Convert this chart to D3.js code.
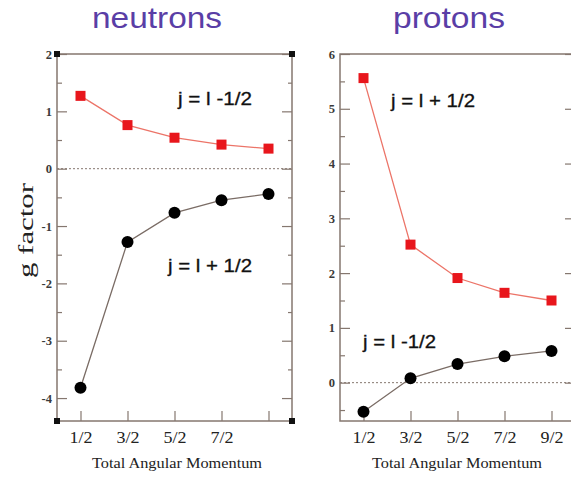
<!DOCTYPE html>
<html>
<head>
<meta charset="utf-8">
<script src="https://cdn.jsdelivr.net/npm/d3@7"></script>
<style>
  html, body { margin: 0; padding: 0; background: #fff; }
  svg { display: block; }
</style>
</head>
<body>
<svg id="chart" width="571" height="477"></svg>
<script>
// ---- data ----
const jValues = [0.5, 1.5, 2.5, 3.5, 4.5];
const neutronTickLabels = ["1/2", "3/2", "5/2", "7/2", ""];
const protonTickLabels = ["1/2", "3/2", "5/2", "7/2", "9/2"];
const neutronRed = [1.27, 0.76, 0.54, 0.42, 0.35];      // j = l - 1/2
const neutronBlack = [-3.82, -1.28, -0.77, -0.55, -0.44]; // j = l + 1/2
const protonRed = [5.56, 2.52, 1.91, 1.64, 1.50];        // j = l + 1/2
const protonBlack = [-0.53, 0.08, 0.34, 0.48, 0.58];     // j = l - 1/2
const neutronYTicks = [-4, -3, -2, -1, 0, 1, 2];
const protonYTicks = [0, 1, 2, 3, 4, 5, 6];
const titles = ["neutrons", "protons"];
const xLabel = "Total Angular Momentum";
const yLabel = "g factor";

const svg = d3.select("#chart");
const axisColor = "#85776f";
const purple = "#5a3ea6";
const red = "#e8161c";
const redLine = "#ec7468";
const blackLine = "#7a6c65";

function panel(cfg) {
  const x = d3.scaleLinear().domain([0, 5]).range([cfg.x0, cfg.x1]);
  const y = d3.scaleLinear().domain(cfg.yDomain).range([421, 54]);
  const g = svg.append("g");

  // zero dotted line
  g.append("line")
    .attr("x1", x(0)).attr("x2", x(5))
    .attr("y1", y(0)).attr("y2", y(0))
    .attr("stroke", axisColor).attr("stroke-width", 1)
    .attr("stroke-dasharray", "2,2");

  const minorVals = d3.range(cfg.yDomain[0], cfg.yDomain[1] + 0.001, 0.5)
    .map(v => Math.round(v * 2) / 2).filter(v => !Number.isInteger(v) && v >= cfg.yDomain[0] && v <= cfg.yDomain[1]);
  const styleAxis = sel => {
    sel.selectAll("path.domain").remove();
    sel.selectAll("line").attr("stroke", axisColor).attr("stroke-width", 1.2);
  };
  g.append("g").attr("transform", `translate(${x(0)},0)`)
    .call(d3.axisLeft(y).tickValues(minorVals).tickSize(-5).tickFormat(""))
    .call(styleAxis);
  g.append("g").attr("transform", `translate(${x(5)},0)`)
    .call(d3.axisRight(y).tickValues(minorVals).tickSize(-4).tickFormat(""))
    .call(styleAxis);
  const la = g.append("g").attr("transform", `translate(${x(0)},0)`)
    .call(d3.axisLeft(y).tickValues(cfg.yTicks).tickSize(-10).tickPadding(5).tickFormat(d3.format("d")))
    .call(styleAxis);
  la.selectAll("text").attr("font-family", "Liberation Serif").attr("font-size", 12.5)
    .attr("font-weight", "bold").attr("fill", "#3a3a3a").text(d => d < 0 ? "-" + Math.abs(d) : d);
  g.append("g").attr("transform", `translate(${x(5)},0)`)
    .call(d3.axisRight(y).tickValues(cfg.yTicks).tickSize(-10).tickFormat(""))
    .call(styleAxis);
  const ba = g.append("g").attr("transform", `translate(0,421)`)
    .call(d3.axisBottom(x).tickValues(jValues).tickSize(-10).tickPadding(11)
      .tickFormat((d, i) => cfg.xLabels[i]))
    .call(styleAxis);
  ba.selectAll("text").attr("font-family", "Liberation Serif").attr("font-size", 16)
    .attr("fill", "#222").attr("textLength", 23).attr("lengthAdjust", "spacingAndGlyphs")
    .filter((d, i) => cfg.xLabels[i] === "").remove();

  g.append("rect")
    .attr("x", x(0)).attr("y", y(cfg.yDomain[1]))
    .attr("width", x(5) - x(0)).attr("height", y(cfg.yDomain[0]) - y(cfg.yDomain[1]))
    .attr("fill", "none").attr("stroke", axisColor).attr("stroke-width", 1.5);

  if (cfg.corners) {
    [[x(0), y(cfg.yDomain[1])], [x(5), y(cfg.yDomain[1])], [x(0), y(cfg.yDomain[0])], [x(5), y(cfg.yDomain[0])]]
      .forEach(([cx, cy]) => g.append("rect").attr("x", cx - 3).attr("y", cy - 3)
        .attr("width", 6).attr("height", 6).attr("fill", "#111"));
  }

  const line = d3.line().x((d, i) => x(jValues[i])).y(d => y(d));
  g.append("path").datum(cfg.red).attr("d", line)
    .attr("fill", "none").attr("stroke", redLine).attr("stroke-width", 1.3);
  g.append("path").datum(cfg.black).attr("d", line)
    .attr("fill", "none").attr("stroke", blackLine).attr("stroke-width", 1.3);

  g.selectAll(".sq").data(cfg.red).join("rect")
    .attr("x", (d, i) => x(jValues[i]) - 5).attr("y", d => y(d) - 5)
    .attr("width", 10).attr("height", 10).attr("fill", red);
  g.selectAll(".ci").data(cfg.black).join("circle")
    .attr("cx", (d, i) => x(jValues[i])).attr("cy", d => y(d))
    .attr("r", 6).attr("fill", "#000");

  g.append("text").attr("x", cfg.titleX).attr("y", 28)
    .attr("font-family", "Liberation Sans").attr("font-size", 29)
    .attr("fill", purple).attr("textLength", cfg.titleW).attr("lengthAdjust", "spacingAndGlyphs")
    .text(cfg.title);

  g.append("text").attr("x", cfg.xLabelX).attr("y", 468)
    .attr("font-family", "Liberation Serif").attr("font-size", 15)
    .attr("fill", "#222").attr("textLength", 170).attr("lengthAdjust", "spacingAndGlyphs")
    .text(xLabel);

  cfg.notes.forEach(n => {
    g.append("text").attr("x", n.x).attr("y", n.y)
      .attr("font-family", "Liberation Sans").attr("font-size", 18)
      .attr("fill", "#111").attr("stroke", "#111").attr("stroke-width", 0.3)
      .attr("textLength", n.w).attr("lengthAdjust", "spacingAndGlyphs")
      .text(n.t);
  });
}

panel({
  x0: 57, x1: 292, yDomain: [-4.4, 2], yTicks: neutronYTicks,
  xLabels: neutronTickLabels, red: neutronRed, black: neutronBlack, corners: true,
  title: titles[0], titleX: 92, titleW: 130, xLabelX: 92,
  notes: [{ t: "j = l -1/2", x: 178, y: 105, w: 74 }, { t: "j = l + 1/2", x: 168, y: 272, w: 84 }]
});
panel({
  x0: 340, x1: 575, yDomain: [-0.7, 6], yTicks: protonYTicks,
  xLabels: protonTickLabels, red: protonRed, black: protonBlack, corners: false,
  title: titles[1], titleX: 393, titleW: 112, xLabelX: 372,
  notes: [{ t: "j = l + 1/2", x: 391, y: 107, w: 84 }, { t: "j = l -1/2", x: 363, y: 348, w: 73 }]
});

svg.append("text")
  .attr("transform", "translate(33,278) rotate(-90)")
  .attr("font-family", "Liberation Serif").attr("font-size", 22)
  .attr("fill", "#222").attr("textLength", 95).attr("lengthAdjust", "spacingAndGlyphs")
  .text(yLabel);
</script>
</body>
</html>
